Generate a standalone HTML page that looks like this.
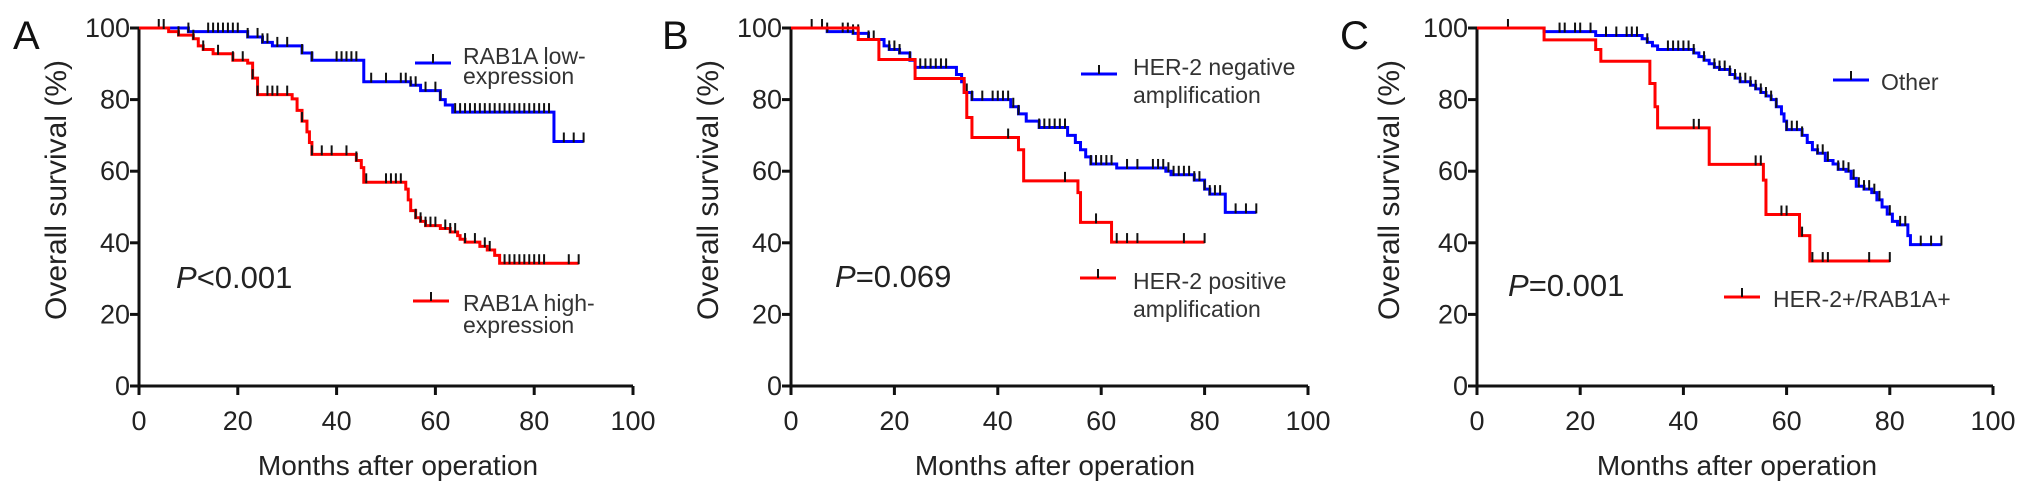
<!DOCTYPE html>
<html><head><meta charset="utf-8"><style>
html,body{margin:0;padding:0;background:#fff;}
svg{display:block;font-family:"Liberation Sans",Arial,sans-serif;}
</style></head><body>
<svg id="fig" width="2032" height="493" viewBox="0 0 2032 493"></svg>
<script>
// ---- Panel A data ----
const aBlueT=[0,10,22,25,27,33,35,45.5,55,57,61,62,63.5,84];
const aBlueS=[100,99,97.5,96,95,93,91,85,84,82.5,80,78.5,76.5,68.3];
const aBlueEnd=90;
const aBlueC=[4,10,14,15,16,17,18,19,20,22,24,25,26,28,30,33,35,40,41,42,43,44,47,50,53,54,55,56,58,60,61,64,65,66,67,68,69,70,71,72,73,74,75,76,77,78,79,80,81,82,83,86,88,90];
const aRedT=[0,6,8,11,12,13,15,19,22,23,24,31,32,33,34,34.5,35,44,45,45.5,54,54.5,55,56,57,58,61,63,64.5,65,66,69,70.5,72,73];
const aRedS=[100,99,98,97,95,94,92.8,91,90.2,86,81.4,80.2,77,74,71,68,64.7,63,61,56.9,55,52,49,47,46,44.8,44,43,42,41,40.2,39,38,36.5,34.3];
const aRedEnd=89;
const aRedC=[5,8,11,13,16,19,21,23,24,26,27,28,30,33,35,37,39,42,44,46,50,51,52,53,56,57,58,59,60,62,63,64,66,68,70,71,74,75,76,77,78,79,80,81,82,87,89];
// ---- Panel B data ----
const bBlueT=[0,7,12,15,18,19,21,23,24,32,33,33.5,35,42.5,44,45.5,48,53.5,55,56,57,58,63,72.5,73.5,78,80,81,84];
const bBlueS=[100,99,98.5,96.8,95,94,93,91,89,87,85,82,80,78,76,74,72.2,70,68,66,64,62,60.9,60,59,57.5,55,53.6,48.5];
const bBlueEnd=90;
const bBlueC=[4,6,7,10,11,12,13,15,16,19,20,21,23,25,26,27,28,29,30,34,35,37,39,40,41,42,43,44,48,49,50,51,52,53,58,59,60,61,62,65,67,70,71,72,73,74,75,76,77,78,79,80,81,82,83,86,88,90];
const bRedT=[0,13,17,24,33.5,34,35,44,45,55.5,56,62];
const bRedS=[100,96.8,91.2,85.9,82,75,69.4,66,57.3,54,45.7,40.2];
const bRedEnd=80;
const bRedC=[42,53,59,63,65,67,76,80];
// ---- Panel C data ----
const cBlueT=[0,13,23,32,33,34,35,42,43,44,45,46,47,49,50,51,53,54,55,56,57,58,59,59.5,60,63,64,65,66,67.5,69,70,71.5,72.5,73.5,75,76.5,77.5,78.5,79.5,80.5,81.5,83.5,84];
const cBlueS=[100,99,97.9,97,96,95,94,93,92,91,90,89,88.4,87,86,85,84,83,82,81,80,78,76,74,71.6,70,68,66,65,63,62,60.5,60,58,55.8,55,54,52,50,48,46,45,42,39.5];
const cBlueEnd=90;
const cBlueC=[6,16,17,19,20,22,25,27,29,30,31,33,37,38,39,40,41,42,44,46,47,48,49,50,51,52,53,54,55,56,57,58,60,61,62,63,66,67,68,70,71,72,73,74,75,76,77,78,80,82,83,86,88,90];
const cRedT=[0,13,23,24,33.5,34.5,35,45,55.5,56,62.5,64.5];
const cRedS=[100,96.7,94,90.7,84.5,78,72.1,61.9,57.5,47.9,42,34.9];
const cRedEnd=80;
const cRedC=[42,43,54,55,59,60,63,65,67,68,76,80];
// ---- ticks ----
const xTicks=[0,20,40,60,80,100];
const yTicks=[0,20,40,60,80,100];

const NS='http://www.w3.org/2000/svg';
const svg=document.getElementById('fig');
function mk(tag,attrs,parent){const e=document.createElementNS(NS,tag);for(const k in attrs)e.setAttribute(k,attrs[k]);(parent||svg).appendChild(e);return e;}
function txt(s,attrs,parent){const e=mk('text',attrs,parent);e.textContent=s;return e;}
function survAt(T,S,t){let v=S[0];for(let i=0;i<T.length;i++){if(T[i]<=t)v=S[i];}return v;}

const panels=[
 {id:'a',letter:'A',lx:13,x0:139,x1:633,ytx:56,xtc:398,
  series:[{n:'low',T:aBlueT,S:aBlueS,end:aBlueEnd,C:aBlueC,col:'#0000ff'},{n:'high',T:aRedT,S:aRedS,end:aRedEnd,C:aRedC,col:'#ff0000'}],
  legends:[{col:'#0000ff',lx:415,ly:63,tx:463,lines:['RAB1A low-','expression'],by:[64,84]},{col:'#ff0000',lx:413,ly:301,tx:463,lines:['RAB1A high-','expression'],by:[311,333]}],
  p:{x:176,y:288,rest:'<0.001'}},
 {id:'b',letter:'B',lx:662,x0:791,x1:1308,ytx:708,xtc:1055,
  series:[{n:'her2-neg',T:bBlueT,S:bBlueS,end:bBlueEnd,C:bBlueC,col:'#0000ff'},{n:'her2-pos',T:bRedT,S:bRedS,end:bRedEnd,C:bRedC,col:'#ff0000'}],
  legends:[{col:'#0000ff',lx:1081,ly:74,tx:1133,lines:['HER-2 negative','amplification'],by:[75,103]},{col:'#ff0000',lx:1080,ly:278,tx:1133,lines:['HER-2 positive','amplification'],by:[289,317]}],
  p:{x:835,y:287,rest:'=0.069'}},
 {id:'c',letter:'C',lx:1340,x0:1477,x1:1993,ytx:1389,xtc:1737,
  series:[{n:'other',T:cBlueT,S:cBlueS,end:cBlueEnd,C:cBlueC,col:'#0000ff'},{n:'her2-rab1a',T:cRedT,S:cRedS,end:cRedEnd,C:cRedC,col:'#ff0000'}],
  legends:[{col:'#0000ff',lx:1833,ly:80,tx:1881,lines:['Other'],by:[90]},{col:'#ff0000',lx:1724,ly:297,tx:1773,lines:['HER-2+/RAB1A+'],by:[307]}],
  p:{x:1508,y:296,rest:'=0.001'}}
];
const Y0=386,Y1=28;
panels.forEach(P=>{
 const g=mk('g',{});
 
 
 const xs=t=>P.x0+(P.x1-P.x0)*t/100;
 const ys=s=>Y0-(Y0-Y1)*s/100;
 const L=txt(P.letter,{x:P.lx,y:49,'font-size':40,fill:'#111'},g);
 
 
 // axes
 const ax=mk('path',{d:`M${P.x0},${Y1} V${Y0} H${P.x1}`,stroke:'#111','stroke-width':3,fill:'none'},g);
 
 
 xTicks.forEach(v=>{
  const t=mk('line',{x1:xs(v),x2:xs(v),y1:Y0,y2:Y0+9,stroke:'#111','stroke-width':3},g);
  
  
  const l=txt(String(v),{x:xs(v),y:430,'font-size':27,'text-anchor':'middle',fill:'#222'},g);
  
  
 });
 yTicks.forEach(v=>{
  const t=mk('line',{x1:P.x0-9,x2:P.x0,y1:ys(v),y2:ys(v),stroke:'#111','stroke-width':3},g);
  
  
  const l=txt(String(v),{x:P.x0-9,y:ys(v)+9,'font-size':27,'text-anchor':'end',fill:'#222'},g);
  
  
 });
 const xt=txt('Months after operation',{x:P.xtc,y:475,'font-size':28,'text-anchor':'middle',fill:'#222'},g);
 
 
 const yt=txt('Overall survival (%)',{x:0,y:0,'font-size':30,'text-anchor':'middle',fill:'#222',transform:`translate(${P.ytx+10},190) rotate(-90)`},g);
 
 
 // series
 P.series.forEach(s=>{
  let d=`M${xs(s.T[0])},${ys(s.S[0])}`;
  for(let i=1;i<s.T.length;i++){d+=` H${xs(s.T[i])} V${ys(s.S[i])}`;}
  d+=` H${xs(s.end)}`;
  const p=mk('path',{d:d,stroke:s.col,'stroke-width':3,fill:'none'},g);
  
  
  s.C.forEach(c=>{
   const y=ys(survAt(s.T,s.S,c));
   const m=mk('line',{x1:xs(c),x2:xs(c),y1:y-9,y2:y+1,stroke:'#111','stroke-width':2},g);
   
   
  });
 });
 // legends
 P.legends.forEach(lg=>{
  const lgG=mk('g',{},g);
  
  
  mk('line',{x1:lg.lx,x2:lg.lx+36,y1:lg.ly,y2:lg.ly,stroke:lg.col,'stroke-width':3},lgG);
  mk('line',{x1:lg.lx+18,x2:lg.lx+18,y1:lg.ly-9,y2:lg.ly,stroke:'#111','stroke-width':2},lgG);
  lg.lines.forEach((ln,i)=>{txt(ln,{x:lg.tx,y:lg.by[i],'font-size':23,fill:'#333'},lgG);});
 });
 const pt=txt('',{x:P.p.x,y:P.p.y,'font-size':31,fill:'#222'},g);
 
 
 const ti=mk('tspan',{'font-style':'italic'},pt);ti.textContent='P';
 const tr=mk('tspan',{},pt);tr.textContent=P.p.rest;
});
</script>
</body></html>
